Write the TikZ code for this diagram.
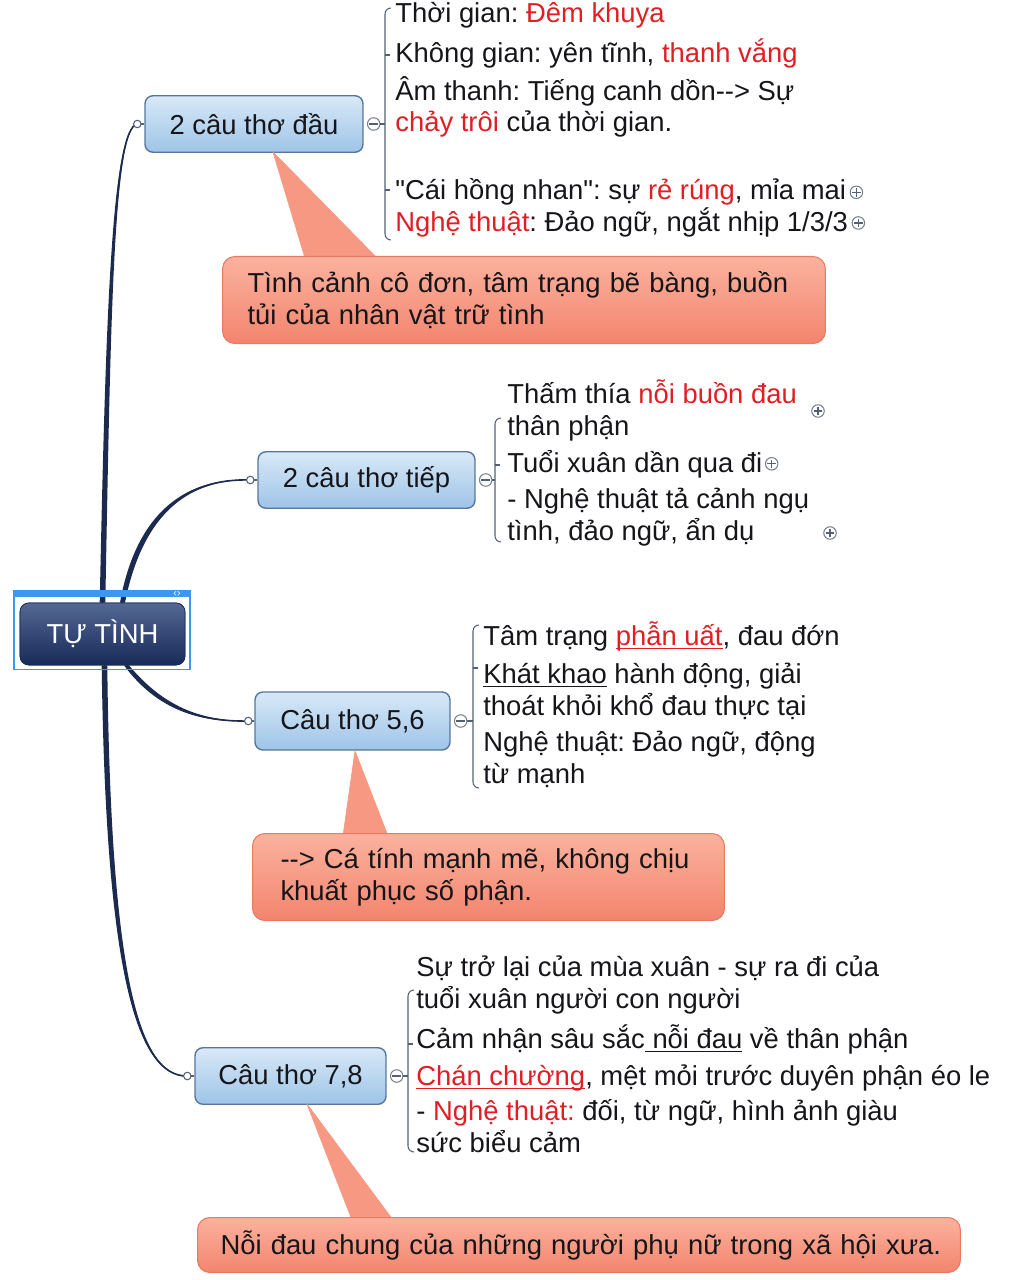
\documentclass[tikz,border=0pt]{standalone}
\usepackage{fontspec}
\setmainfont{Liberation Sans}[Ligatures=TeXOff]
\usetikzlibrary{calc}
\frenchspacing

\definecolor{xanhdam}{RGB}{27,42,78}
\definecolor{chudo}{RGB}{224,30,36}
\definecolor{chuden}{RGB}{22,22,26}
\definecolor{nhanhtren}{RGB}{216,233,248}
\definecolor{nhanhduoi}{RGB}{158,196,231}
\definecolor{nhanhvien}{RGB}{88,118,156}
\definecolor{goctren}{RGB}{84,104,148}
\definecolor{gocduoi}{RGB}{24,42,88}
\definecolor{khungxanh}{RGB}{62,150,238}
\definecolor{ghitren}{RGB}{251,178,158}
\definecolor{ghiduoi}{RGB}{243,132,110}
\definecolor{ghivien}{RGB}{232,122,98}
\definecolor{muicam}{RGB}{247,152,130}
\definecolor{ngoacxam}{RGB}{84,96,116}

\newcommand{\chuto}{\fontsize{15.6}{18.2}\selectfont}
\newcommand{\gach}[1]{\setbox0\hbox{#1}\rlap{\rule[-2.4pt]{\wd0}{0.7pt}}\box0\relax}

\tikzstyle{goc}= [rectangle,rounded corners=5pt,draw=gocduoi,top color=goctren,bottom color=gocduoi,text=white,font=\chuto,minimum width=3.3cm,minimum height=1.24cm]
\tikzstyle{nhanh}= [rectangle,rounded corners=4.5pt,draw=nhanhvien,line width=0.8pt,top color=nhanhtren,bottom color=nhanhduoi,text=chuden,font=\chuto,minimum height=1.13cm]
\tikzstyle{ghichu}= [rectangle,rounded corners=7pt,draw=ghivien,line width=0.6pt,top color=ghitren,bottom color=ghiduoi,text=chuden,font=\chuto,align=left,anchor=north west]
\tikzstyle{muoi}= [fill=muicam,draw=muicam,line width=0.4pt]
\tikzstyle{dong}= [anchor=base west,inner sep=0pt,align=left,text=chuden,font=\chuto]
\tikzstyle{nhanhnoi}= [draw=xanhdam,line width=0.9pt,line cap=round]
\tikzstyle{thon}= [fill=xanhdam]
\tikzstyle{ngoac}= [draw=ngoacxam,line width=0.6pt]
\tikzstyle{diem}= [circle,draw=ngoacxam,fill=white,line width=0.6pt,inner sep=0pt,minimum size=0.15cm]
\tikzstyle{thu}= [circle,draw=ngoacxam!80,fill=white,line width=0.6pt,inner sep=0pt,minimum size=0.25cm,
  path picture={\draw[ngoacxam,line width=0.8pt] ([xshift=-2.6pt]path picture bounding box.center) -- ([xshift=2.6pt]path picture bounding box.center);}]
\tikzstyle{mo}= [circle,draw=ngoacxam!80,fill=white,line width=0.6pt,inner sep=0pt,minimum size=0.25cm,
  path picture={\draw[ngoacxam,line width=0.8pt] ([xshift=-2.4pt]path picture bounding box.center) -- ([xshift=2.4pt]path picture bounding box.center)
  ([yshift=-2.4pt]path picture bounding box.center) -- ([yshift=2.4pt]path picture bounding box.center);}]

\begin{document}
\begin{tikzpicture}[x=0.02cm,y=-0.02cm]
		\useasboundingbox (0,0) rectangle (1024,1280);

		% nut goc
		\node (tt) at (102.5,634) [goc] {TỰ TÌNH};

		% cac nhanh
		\node (t1) at (254,124) [nhanh,minimum width=4.36cm] {2 câu thơ đầu};
		\node (t2) at (366.5,480) [nhanh,minimum width=4.34cm] {2 câu thơ tiếp};
		\node (t3) at (352.5,721) [nhanh,minimum width=3.9cm,minimum height=1.16cm] {Câu thơ 5,6};
		\node (t4) at (290.5,1076) [nhanh,minimum width=3.82cm] {Câu thơ 7,8};

		\coordinate (d1) at ($(t1.west)+(-7,0)$);
		\coordinate (d2) at ($(t2.west)+(-7,0)$);
		\coordinate (d3) at ($(t3.west)+(-6,0)$);
		\coordinate (d4) at ($(t4.west)+(-7,0)$);

		\draw[nhanhnoi] (tt.north) .. controls (108,330) and (112,128) .. (d1);
		\draw[nhanhnoi] ($(tt.north)+(20,0)$) .. controls (140,510) and (190,478) .. (d2);
		\draw[nhanhnoi] ($(tt.south)+(24,0)$) .. controls (160,708) and (200,722) .. (d3);
		\draw[nhanhnoi] ($(tt.south)+(2,0)$) .. controls (108,960) and (135,1077) .. (d4);

		% net thon
		\fill[thon] ($(tt.north)+(-2.8,0)$) .. controls (105.5,330) and (111,127) .. (d1)
			.. controls (113,129) and (110.5,330) .. ($(tt.north)+(2.8,0)$) -- cycle;
		\fill[thon] ($(tt.north)+(17.5,0)$) .. controls (137,508) and (190,477) .. (d2)
			.. controls (190,479) and (143,512) .. ($(tt.north)+(22.5,0)$) -- cycle;
		\fill[thon] ($(tt.south)+(21.5,0)$) .. controls (157,710) and (200,723) .. (d3)
			.. controls (200,721) and (163,706) .. ($(tt.south)+(26.5,0)$) -- cycle;
		\fill[thon] ($(tt.south)+(-0.8,0)$) .. controls (105.5,960) and (134,1078) .. (d4)
			.. controls (136,1076) and (110.5,960) .. ($(tt.south)+(4.8,0)$) -- cycle;

		% khung chon
		\node (khung) at (102,630) [draw=khungxanh,line width=1.1pt,minimum width=3.52cm,minimum height=1.58cm] {};
		\fill[khungxanh] (khung.north west) rectangle ($(khung.north east)+(0,7)$);
		\node at (177,594.5) [text=white,inner sep=0pt,font=\fontsize{6}{6}\selectfont] {‹›};
		\node (tt) at (102.5,634) [goc] {TỰ TÌNH};

		\foreach \d/\t in {d1/t1,d2/t2,d3/t3,d4/t4}
			\draw[ngoac] (\d) -- (\t.west);
		\foreach \d in {d1,d2,d3,d4}
			\node at (\d) [diem] {};

		% mui ghi chu
		\fill[muoi] (273,152) -- (305,258) -- (377,258) -- cycle;
		\fill[muoi] (355,751) -- (343,836) -- (388,836) -- cycle;
		\fill[muoi] (307,1104) -- (352,1220) -- (393,1220) -- cycle;

		% ghi chu
		\node (g1) at (222,256) [ghichu,minimum width=12.06cm,minimum height=1.74cm,inner xsep=0.5cm,text width=11.06cm] {Tình cảnh cô đơn, tâm trạng bẽ bàng, buồn\\tủi của nhân vật trữ tình};
		\node (g3) at (252,833) [ghichu,minimum width=9.44cm,minimum height=1.74cm,inner xsep=0.56cm,text width=8.32cm] {--> Cá tính mạnh mẽ, không chịu\\khuất phục số phận.};
		\node (g4) at (197,1217) [ghichu,minimum width=15.26cm,minimum height=1.1cm,inner xsep=0.46cm,text width=14.34cm] {\mbox{Nỗi đau chung của những người phụ nữ trong xã hội xưa.}};

		% nhanh 1
		\node (m1) at ($(t1.east)+(10,0)$) [thu] {};
		\draw[ngoac] (m1) -- (385,124);
		\draw[ngoac] (391,8) to[out=180,in=90] (385,14) -- (385,234) to[out=-90,in=180] (391,240);
		\foreach \h in {55,190} \draw[ngoac] (385,\h) -- (390,\h);
		\node (i11) at (395,23) [dong] {Thời gian: {\color{chudo}Đêm khuya}};
		\node (i12) at (395,63) [dong] {Không gian: yên tĩnh, {\color{chudo}thanh vắng}};
		\node (i13) at (395,132) [dong] {Âm thanh: Tiếng canh dồn--> Sự\\{\color{chudo}chảy trôi} của thời gian.};
		\node (i14) at (395,200) [dong] {"Cái hồng nhan": sự {\color{chudo}rẻ rúng}, mỉa mai};
		\node (i15) at (395,232) [dong] {{\color{chudo}Nghệ thuật}: Đảo ngữ, ngắt nhịp 1/3/3};
		\node (p14) at ($(i14.east)+(10,0)$) [mo] {};
		\node (p15) at ($(i15.east)+(10,0)$) [mo] {};

		% nhanh 2
		\node (m2) at ($(t2.east)+(10,0)$) [thu] {};
		\draw[ngoac] (m2) -- (495,480);
		\draw[ngoac] (501,418) to[out=180,in=90] (495,424) -- (495,536) to[out=-90,in=180] (501,542);
		\foreach \h in {465} \draw[ngoac] (495,\h) -- (500,\h);
		\node (i21) at (507,435) [dong] {Thấm thía {\color{chudo}nỗi buồn đau}\\thân phận};
		\node (i22) at (507,472) [dong] {Tuổi xuân dần qua đi};
		\node (i23) at (507,540) [dong] {- Nghệ thuật tả cảnh ngụ\\tình, đảo ngữ, ẩn dụ};
		\node (p21) at (818,411) [mo] {};
		\node (p22) at ($(i22.east)+(9,0)$) [mo] {};
		\node (p23) at (830,533) [mo] {};

		% nhanh 3
		\node (m3) at ($(t3.east)+(10,0)$) [thu] {};
		\draw[ngoac] (m3) -- (473,721);
		\draw[ngoac] (479,625) to[out=180,in=90] (473,631) -- (473,782) to[out=-90,in=180] (479,788);
		\foreach \h in {668} \draw[ngoac] (473,\h) -- (478,\h);
		\node (i31) at (483,645) [dong] {Tâm trạng {\color{chudo}\gach{phẫn uất}}, đau đớn};
		\node (i32) at (483,715) [dong] {\gach{Khát khao} hành động, giải\\thoát khỏi khổ đau thực tại};
		\node (i33) at (483,783) [dong] {Nghệ thuật: Đảo ngữ, động\\từ mạnh};

		% nhanh 4
		\node (m4) at ($(t4.east)+(10,0)$) [thu] {};
		\draw[ngoac] (m4) -- (408,1076);
		\draw[ngoac] (414,990) to[out=180,in=90] (408,996) -- (408,1146) to[out=-90,in=180] (414,1152);
		\foreach \h in {1044} \draw[ngoac] (408,\h) -- (413,\h);
		\node (i41) at (416,1008) [dong] {Sự trở lại của mùa xuân - sự ra đi của\\tuổi xuân người con người};
		\node (i42) at (416,1048) [dong] {Cảm nhận sâu sắc\gach{ nỗi đau} về thân phận};
		\node (i43) at (416,1085) [dong] {{\color{chudo}\gach{Chán chường}}, mệt mỏi trước duyên phận éo le};
		\node (i44) at (416,1152) [dong] {- {\color{chudo}Nghệ thuật:} đối, từ ngữ, hình ảnh giàu\\sức biểu cảm};

\end{tikzpicture}
\end{document}
